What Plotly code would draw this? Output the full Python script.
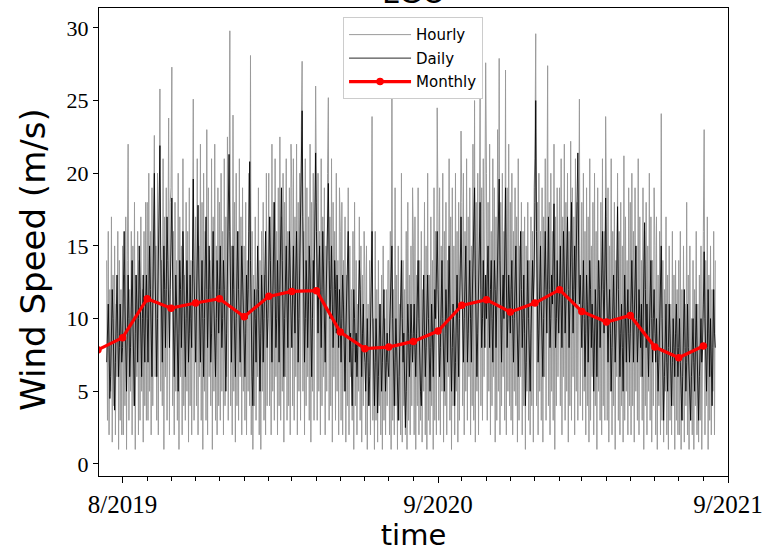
import pandas as pd
import plotly.graph_objects as go

# ---------------------------------------------------------------------------
# Wind speed at LGO (m/s)
# ---------------------------------------------------------------------------

# hourly extremes, one value per day starting 2019-07-12
hourly_2019 = [
    14, 3, 16, 2, 12, 5, 17, 1.5, 13, 4, 15, 2, 11, 6, 16, 1, 14, 3, 12, 2,                                   # Jul (12-31)
    15, 2, 13, 4, 17, 1, 14, 22, 3, 12, 5, 16, 2, 15, 4, 18, 1, 13, 6, 16, 2, 14, 3, 17, 5, 12, 1.5, 16, 4, 18, 3,  # Aug
    18, 3, 20, 5, 16, 2, 19, 4, 17, 22.6, 6, 15, 3, 20, 2, 18, 25.8, 5, 14, 4, 21, 1, 17, 6, 19, 3, 16, 23.8, 2, 18,  # Sep
    19, 27.3, 4, 16, 2, 18, 5, 14, 3, 20, 1, 17, 6, 15, 2, 21, 4, 13, 3, 18, 5, 16, 1.5, 19, 4, 14, 2, 17, 25.1, 3, 15,  # Oct
    17, 4, 21, 2, 15, 6, 22, 3, 18, 1, 20, 5, 16, 3, 23, 2, 19, 6, 14, 4, 21, 1, 17, 5, 22, 3, 15, 2, 19, 4,  # Nov
    18, 3, 20, 5, 16, 2, 21, 4, 17, 6, 22.5, 3, 19, 29.8, 4, 15, 2, 24, 5, 18, 1.5, 20, 4, 16, 3, 21, 6, 17, 2, 19, 5,  # Dec
]
hourly_2020 = [
    15, 3, 18, 2, 14, 5, 20, 4, 28.1, 2, 16, 1, 13, 4, 17, 3, 12, 6, 19, 2, 14, 1, 16, 5, 18, 3, 13, 2, 20, 4, 15,  # Jan
    20, 4, 17, 2, 22, 5, 18, 3, 21, 6, 16, 2, 19, 4, 22.5, 3, 17, 5, 20, 1.5, 18, 6, 21, 3, 16, 4, 19, 2, 22,  # Feb
    19, 4, 21, 3, 17, 6, 22, 2, 18, 5, 20, 3, 23, 27.7, 5, 16, 2, 21, 4, 19, 6, 17, 3, 22, 1.5, 18, 5, 20, 3, 16, 26,  # Mar
    18, 3, 20, 5, 16, 2, 21, 4, 17, 6, 19, 2, 15, 5, 20, 25.2, 3, 17, 4, 21, 1.5, 18, 6, 16, 3, 20, 5, 14, 2, 19,  # Apr
    16, 3, 18, 2, 14, 5, 17, 1.5, 13, 4, 19, 2, 15, 6, 12, 3, 16, 1, 18, 4, 14, 2, 11, 5, 17, 3, 15, 1.5, 13, 4, 16,  # May
    13, 2, 15, 1, 11, 4, 14, 2, 12, 23.9, 3, 10, 1, 16, 3, 12, 1.5, 14, 4, 11, 2, 13, 1, 15, 3, 10, 2, 12, 4, 14,  # Jun
    14, 2, 16, 1, 27.5, 3, 12, 2, 19, 4, 13, 1, 15, 3, 11, 2, 20, 1.5, 14, 4, 12, 2, 16, 1, 18, 3, 13, 2, 15, 4, 19,  # Jul
    15, 2, 17, 1, 13, 4, 19, 2, 14, 3, 16, 1.5, 12, 5, 18, 2, 15, 1, 20, 3, 13, 2, 17, 4, 14, 1, 19, 3, 16, 2, 24.5,  # Aug
    17, 3, 19, 2, 15, 5, 20, 1.5, 16, 4, 18, 2, 14, 6, 21, 3, 17, 1, 19, 4, 15, 2, 20, 5, 16, 1.5, 18, 3, 14, 22.9,  # Sep
    18, 4, 20, 2, 16, 5, 21, 3, 17, 6, 19, 2, 15, 4, 22, 3, 25, 1.5, 18, 5, 20, 2, 16, 25.7, 4, 19, 3, 21, 6, 17, 27.6,  # Oct
    20, 3, 18, 5, 22, 2, 16, 4, 21, 6, 19, 1.5, 17, 3, 23, 5, 27.9, 2, 18, 4, 20, 6, 16, 3, 27.1, 2, 19, 5, 22, 4,  # Nov
    18, 3, 20, 2, 16, 5, 19, 4, 17, 1.5, 21, 3, 15, 6, 18, 2, 16, 4, 17, 1, 15, 5, 18, 3, 14, 2, 17, 4, 16, 1.5, 19,  # Dec
]
hourly_2021 = [
    21, 29.6, 4, 18, 2, 20, 5, 16, 3, 19, 1.5, 17, 6, 21, 3, 15, 27.4, 4, 18, 2, 20, 5, 16, 3, 22, 1, 17, 4, 19, 6, 15,  # Jan
    19, 4, 21, 2, 17, 6, 22, 3, 18, 5, 20, 1.5, 16, 4, 22.2, 3, 19, 6, 17, 2, 21, 5, 18, 3, 20, 25.1, 4, 17,  # Feb
    18, 3, 20, 5, 16, 2, 19, 4, 17, 1.5, 21, 3, 15, 6, 18, 2, 20, 4, 16, 1, 19, 5, 14, 3, 18, 2, 21, 4, 16, 3, 23.9,  # Mar
    17, 3, 19, 1.5, 15, 5, 21, 2, 16, 4, 18, 1, 14, 6, 20, 3, 16, 2, 18, 4, 15, 1.5, 21.2, 3, 17, 5, 14, 2, 19, 4,  # Apr
    18, 2, 20, 4, 16, 1.5, 19, 5, 15, 3, 21, 2, 17, 6, 14, 3, 19, 1, 16, 4, 18, 2, 15, 5, 20, 3, 17, 1.5, 14, 4, 19,  # May
    15, 2, 17, 1, 13, 4, 16, 2, 24.1, 3, 14, 1.5, 12, 5, 17, 2, 13, 1, 15, 3, 11, 2, 16, 4, 13, 1, 14, 3, 12, 2,  # Jun
    14, 2, 16, 1, 12, 3, 15, 1.5, 11, 4, 18, 2, 13, 1, 15, 3, 10, 2, 14, 1, 12, 4, 16, 2, 11, 1.5, 13, 3, 15, 1, 12,  # Jul
    16, 23, 2, 14, 4, 17, 1, 13, 3, 15, 2, 12, 5, 16, 2, 14,  # Aug (1-16)
]

# daily means starting 2019-07-12
daily_2019 = [
    7, 9, 11, 8, 4.5, 6, 9, 12, 10, 6, 3.7, 7, 10, 13, 9, 6, 8, 11, 9, 7,  # Jul (12-31)
    8, 12, 16, 11, 7, 5, 9, 13, 10, 6, 8, 12, 14, 10, 6, 4, 9, 13, 11, 7, 10, 15, 12, 8, 6, 10, 13, 9, 7, 11, 13,  # Aug
    10, 7, 11, 15, 12, 8, 6, 11, 16, 20, 13, 8, 6, 10, 14, 17, 21.9, 15, 10, 7, 11, 15, 12, 8, 12, 17, 14, 10, 8, 12,  # Sep
    15, 18.3, 13, 9, 6, 9, 13, 11, 7, 5, 9, 14, 12, 8, 11, 16, 13, 9, 6, 10, 14, 11, 7, 9, 13, 10, 8, 14, 19.6, 13, 9,  # Oct
    7, 11, 15, 17.8, 13, 9, 7, 11, 14, 10, 6, 10, 15, 17, 12, 8, 11, 15, 12, 7, 9, 13, 16, 11, 8, 6, 10, 14, 12, 9,  # Nov
    12, 15, 11, 8, 10, 14, 12, 7, 5, 9, 14, 18, 21.3, 16, 10, 7, 11, 15, 12, 8, 6, 10, 13, 16, 12, 9, 7, 11, 15, 13, 10,  # Dec
]
daily_2020 = [
    8, 6, 9, 13, 10, 12, 16, 20.8, 14, 9, 6, 4, 8, 12, 10, 7, 11, 15, 12, 8, 5, 9, 13, 11, 7, 10, 14, 16, 11, 8, 10,  # Jan
    13, 17, 14, 10, 7, 11, 15, 18, 12, 8, 10, 14, 11, 7, 12, 16, 19, 14, 9, 6, 10, 13, 15, 11, 8, 12, 16, 13, 10,  # Feb
    8, 12, 15, 11, 9, 13, 16, 12, 7, 10, 14, 17, 20, 24.3, 17, 11, 7, 10, 14, 12, 8, 11, 15, 13, 9, 6, 10, 14, 12, 16, 21.4,  # Mar
    16, 12, 9, 13, 15, 11, 8, 12, 16, 13, 9, 7, 11, 14, 17, 19.3, 14, 10, 12, 15, 11, 8, 10, 14, 12, 9, 13, 11, 8, 12,  # Apr
    9, 7, 10, 13, 11, 7, 5, 9, 12, 14, 16, 11, 7, 9, 6, 4, 8, 12, 10, 7, 9, 6, 8, 11, 14, 12, 8, 6, 9, 11, 8,  # May
    7, 5, 8, 10, 7, 4, 6, 9, 12, 16, 10, 6, 4, 7, 10, 8, 3.5, 6, 9, 11, 8, 5, 7, 10, 12, 8, 5, 7, 9, 7,  # Jun
    6, 9, 11, 13, 15, 10, 6, 4, 7, 10, 8, 5, 3, 6, 9, 12, 14, 10, 7, 9, 5, 2.5, 5, 8, 11, 9, 6, 8, 11, 9, 7,  # Jul
    9, 11, 8, 6, 9, 12, 14, 10, 7, 5, 4, 7, 10, 13, 9, 6, 8, 11, 13, 10, 7, 5, 8, 11, 9, 6, 9, 12, 10, 13, 16,  # Aug
    12, 9, 6, 8, 11, 14, 10, 7, 5, 9, 12, 10, 7, 11, 15, 11, 7, 5, 8, 11, 9, 4, 7, 10, 13, 9, 6, 10, 13, 17,  # Sep
    13, 9, 7, 10, 13, 15, 11, 7, 9, 12, 14, 10, 7, 11, 14, 17, 19, 13, 8, 6, 9, 13, 15, 18, 12, 8, 10, 14, 11, 8, 13,  # Oct
    10, 13, 15, 11, 8, 12, 14, 10, 7, 11, 14, 12, 8, 11, 15, 17, 19.6, 14, 9, 7, 11, 13, 10, 15, 19, 13, 8, 10, 13, 11,  # Nov
    9, 12, 14, 10, 7, 10, 13, 15, 11, 8, 6, 9, 12, 16, 12, 8, 10, 13, 9, 4, 7, 11, 14, 10, 7, 5, 9, 12, 14, 11, 13,  # Dec
]
daily_2021 = [
    18, 25, 16, 11, 7, 9, 12, 15, 11, 8, 6, 10, 13, 16, 12, 9, 13, 17, 12, 8, 10, 13, 11, 15, 17.9, 12, 8, 10, 14, 11, 9,  # Jan
    12, 15, 11, 8, 12, 16, 13, 9, 11, 14, 17, 12, 8, 11, 15, 18, 13, 9, 12, 15, 11, 14, 18, 21.4, 15, 11, 13, 10,  # Feb
    8, 11, 14, 10, 6, 9, 13, 11, 7, 10, 14, 12, 8, 11, 9, 5, 8, 12, 10, 6, 10, 14, 12, 8, 10, 13, 16, 12, 9, 13, 18.3,  # Mar
    13, 10, 7, 10, 12, 9, 5, 8, 11, 13, 10, 7, 9, 13, 17.7, 12, 8, 6, 9, 11, 8, 5, 9, 13, 10, 7, 10, 12, 9, 7,  # Apr
    9, 12, 14, 11, 7, 10, 13, 15, 10, 7, 9, 12, 10, 8, 11, 6, 9, 13, 16.6, 12, 8, 11, 9, 6, 9, 12, 14, 10, 7, 10, 12,  # May
    9, 7, 10, 8, 5, 7, 10, 12, 15, 10, 6, 3, 6, 9, 11, 7, 5, 8, 11, 9, 6, 4, 7, 10, 8, 6, 9, 11, 8, 6,  # Jun
    8, 10, 7, 5, 3, 6, 9, 12, 8, 5, 7, 11, 8, 6, 4, 3, 6, 9, 10, 7, 5, 8, 11, 8, 5, 3, 6, 9, 10, 7, 8,  # Jul
    11, 14.6, 10, 7, 5, 8, 12, 9, 6, 10, 7, 4, 8, 12, 9, 8,  # Aug (1-16)
]

# monthly means, one per month starting 2019-07
monthly_mean = [7.85, 8.69, 11.37, 10.72, 11.07, 11.37, 10.13, 11.53, 11.87, 11.92,
                9.07, 7.93, 8.04, 8.43, 9.14, 10.91, 11.30, 10.45, 11.07, 11.99,
                10.49, 9.76, 10.22, 8.04, 7.31, 8.11]

x_tick_dates = ["2019-08-01", "2020-09-01", "2021-09-01"]
x_tick_labels = ["8/2019", "9/2020", "9/2021"]
y_tick_values = [0, 5, 10, 15, 20, 25, 30]

hourly = hourly_2019 + hourly_2020 + hourly_2021
daily = daily_2019 + daily_2020 + daily_2021
hourly_t = pd.date_range("2019-07-12", periods=len(hourly), freq="D")
daily_t = pd.date_range("2019-07-12", periods=len(daily), freq="D")
monthly_t = pd.date_range("2019-07-01", periods=len(monthly_mean), freq="MS")

SERIF = "Liberation Serif, DejaVu Serif, serif"
SANS = "DejaVu Sans, Arial, sans-serif"

fig = go.Figure()
fig.add_trace(go.Scatter(x=hourly_t, y=hourly, mode="lines", name="Hourly",
                         legendgroup="h",
                         line=dict(color="#9a9a9a", width=1.0)))
fig.add_trace(go.Scatter(x=daily_t, y=daily, mode="lines", name="Daily",
                         legendgroup="d",
                         line=dict(color="#000000", width=0.85)))
fig.add_trace(go.Scatter(x=monthly_t, y=monthly_mean, mode="lines+markers",
                         name="Monthly", legendgroup="m",
                         line=dict(color="#ff0000", width=3.2),
                         marker=dict(color="#ff0000", size=7.5)))

# title sits just above the frame
fig.add_annotation(text="LGO", xref="paper", yref="paper", x=0.5, y=1,
                   xanchor="center", yanchor="bottom", yshift=-4,
                   showarrow=False, font=dict(family=SANS, size=30, color="black"))

# y-axis label
fig.add_annotation(text="Wind Speed (m/s)", xref="paper", yref="paper",
                   x=0, y=0.462, xanchor="center", yanchor="middle",
                   xshift=-66, textangle=-90, showarrow=False,
                   font=dict(family=SANS, size=34, color="black"))

fig.update_layout(
    width=770, height=553,
    margin=dict(l=99, r=42, t=8, b=77),
    paper_bgcolor="white", plot_bgcolor="white",
    showlegend=True,
    legend=dict(x=0.388, y=0.98, xanchor="left", yanchor="top",
                bgcolor="white", bordercolor="#cccccc", borderwidth=1,
                font=dict(family=SANS, size=15, color="black"),
                itemwidth=62, tracegroupgap=1),
    xaxis=dict(
        range=["2019-07-02 08:00", "2021-09-01"],
        tickvals=x_tick_dates, ticktext=x_tick_labels,
        ticks="outside", ticklen=6, tickwidth=1, tickcolor="black",
        minor=dict(dtick="M1", tick0="2019-08-01", ticks="outside",
                   ticklen=4, tickwidth=1, tickcolor="black", showgrid=False),
        showline=True, linecolor="black", linewidth=1.2, mirror=True,
        showgrid=False, zeroline=False,
        tickfont=dict(family=SERIF, size=25, color="black"),
        title=dict(text="time", font=dict(family=SANS, size=29, color="black"),
                   standoff=6),
    ),
    yaxis=dict(
        range=[-0.83, 31.37],
        tickvals=y_tick_values,
        ticks="outside", ticklen=5, tickwidth=1, tickcolor="black",
        showline=True, linecolor="black", linewidth=1.2, mirror=True,
        showgrid=False, zeroline=False,
        tickfont=dict(family=SERIF, size=22, color="black"),
    ),
)

fig.write_html("out.html")
